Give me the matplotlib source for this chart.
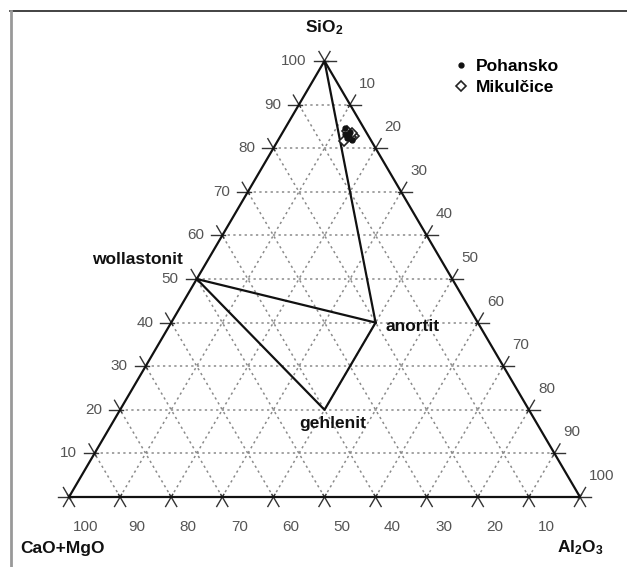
import numpy as np
import matplotlib.pyplot as plt
from matplotlib.lines import Line2D

plt.rcParams['font.family'] = ['Liberation Sans', 'DejaVu Sans']
plt.rcParams['mathtext.fontset'] = 'custom'
plt.rcParams['mathtext.rm'] = 'Liberation Sans'
plt.rcParams['mathtext.bf'] = 'Liberation Sans:bold'

# ternary data, wt% (SiO2, Al2O3, CaO+MgO)
tick_values = [10, 20, 30, 40, 50, 60, 70, 80, 90, 100]

mineral_names = ['wollastonit', 'anortit', 'gehlenit']
mineral_sio2 = [50, 40, 20]
mineral_al2o3 = [0, 40, 40]
mineral_cao = [50, 20, 40]

# apex of SiO2 used by the tie line to anortit
apex_sio2, apex_al2o3 = 100, 0

pohansko_sio2 = [84.6, 83.7, 82.3, 81.9, 83.0, 83.2]
pohansko_al2o3 = [11.7, 13.1, 13.3, 14.4, 13.3, 12.4]
mikulcice_sio2 = [82.8, 81.7, 84.0, 82.5, 83.4]
mikulcice_al2o3 = [14.4, 13.0, 12.5, 14.0, 13.6]

PX, PY = 511.0, 436.0  # triangle size in pixels


def tern(sio2, al2o3):
    s = np.asarray(sio2, dtype=float) / 100.0
    a = np.asarray(al2o3, dtype=float) / 100.0
    return a + s / 2.0, s


def shift(p, d, dist):
    """move point p (axes units) by dist pixels along pixel direction d"""
    return p[0] + d[0] * dist / PX, p[1] + d[1] * dist / PY


fig = plt.figure(figsize=(6.27, 5.67), dpi=100)
ax = fig.add_axes([69 / 627, (567 - 497) / 567, PX / 627, PY / 567])
ax.set_xlim(0, 1)
ax.set_ylim(0, 1)
ax.axis('off')

# frame of the original picture
fig.add_artist(Line2D([10 / 627, 1], [1 - 11 / 567] * 2, color='#222222', lw=1.2))
fig.add_artist(Line2D([11 / 627] * 2, [0, 1 - 11 / 567], color='#999999', lw=2))

ln = np.hypot(PX / 2, PY)
d_r = (PX / 2 / ln, -PY / ln)   # along right edge, downwards
d_l = (PX / 2 / ln, PY / ln)    # along left edge, upwards

grid_st = dict(color='#8a8a8a', lw=1.1, ls=(0, (1.5, 2.2)), zorder=1)
tick_st = dict(color='#333333', lw=1.0, zorder=2, clip_on=False)
lab_st = dict(textcoords='offset pixels', fontsize=11, color='#555555',
              va='center', annotation_clip=False)

for k in range(11):
    f = k / 10.0
    fams = [
        # SiO2 = f : left edge -> right edge
        ((f / 2, f), (-1, 0), (1 - f / 2, f), (1, 0)),
        # CaO = f : bottom -> left edge
        ((1 - f, 0), d_r, ((1 - f) / 2, 1 - f), (-d_r[0], -d_r[1])),
        # Al2O3 = f : bottom -> right edge
        ((f, 0), (-d_l[0], -d_l[1]), ((1 + f) / 2, 1 - f), d_l),
    ]
    for e1, d1, e2, d2 in fams:
        if 0 < k < 10:
            ax.plot([e1[0], e2[0]], [e1[1], e2[1]], **grid_st)
        for e, d in ((e1, d1), (e2, d2)):
            p0 = shift(e, d, 11)
            p1 = shift(e, d, -3)
            ax.plot([p0[0], p1[0]], [p0[1], p1[1]], **tick_st)
    if k > 0:
        val = str(tick_values[k - 1])
        ax.annotate(val, xy=fams[0][0], xytext=(-18, 0), ha='right', **lab_st)
        ax.annotate(val, xy=fams[1][0], xytext=(17, -30), ha='center', **lab_st)
        ax.annotate(val, xy=fams[2][2], xytext=(9, 21), ha='left', **lab_st)

# triangle edges
tri_u, tri_v = tern([0, 0, 100, 0], [0, 100, 0, 0])
ax.plot(tri_u, tri_v, color='#111111', lw=1.6, zorder=3, clip_on=False)

# tie lines between phases
mu, mv = tern(mineral_sio2, mineral_al2o3)
au, av = tern(apex_sio2, apex_al2o3)
ax.plot([au, mu[1]], [av, mv[1]], color='#111111', lw=1.6, zorder=3)
ax.plot([mu[0], mu[1]], [mv[0], mv[1]], color='#111111', lw=1.6, zorder=3)
ax.plot([mu[0], mu[2], mu[1]], [mv[0], mv[2], mv[1]], color='#111111', lw=1.6, zorder=3)

bold = dict(textcoords='offset pixels', fontsize=12.5, fontweight='bold',
            color='#111111', va='center', annotation_clip=False)
ax.annotate(mineral_names[0], xy=(mu[0], mv[0]), xytext=(-59, 19), ha='center', **bold)
ax.annotate(mineral_names[1], xy=(mu[1], mv[1]), xytext=(10, -4), ha='left', **bold)
ax.annotate(mineral_names[2], xy=(mu[2], mv[2]), xytext=(8, -14), ha='center', **bold)

# samples
pu, pv = tern(pohansko_sio2, pohansko_al2o3)
ku, kv = tern(mikulcice_sio2, mikulcice_al2o3)
ax.plot(pu, pv, ls='', marker='o', ms=3.5, color='#111111', zorder=5, label='Pohansko')
ax.plot(ku, kv, ls='', marker='D', ms=5, mfc='white', mec='#222222', mew=1.2,
        zorder=4, label='Mikulčice')

# component names
ax.annotate(r'$\mathbf{SiO_2}$', xy=(0.5, 1), xytext=(0, 33), ha='center', **bold)
ax.annotate('CaO+MgO', xy=(0, 0), xytext=(-49, -52), ha='left', **bold)
ax.annotate(r'$\mathbf{Al_2O_3}$', xy=(1, 0), xytext=(0, -51), ha='center', **bold)

leg = ax.legend(loc='upper left', bbox_to_anchor=(445 / 627, 1 - 50 / 567),
                bbox_transform=fig.transFigure, frameon=False, handlelength=0.8,
                handletextpad=0.5, labelspacing=0.35, borderpad=0,
                prop=dict(weight='bold', size=12.5))

fig.savefig('out.png', dpi=100)
